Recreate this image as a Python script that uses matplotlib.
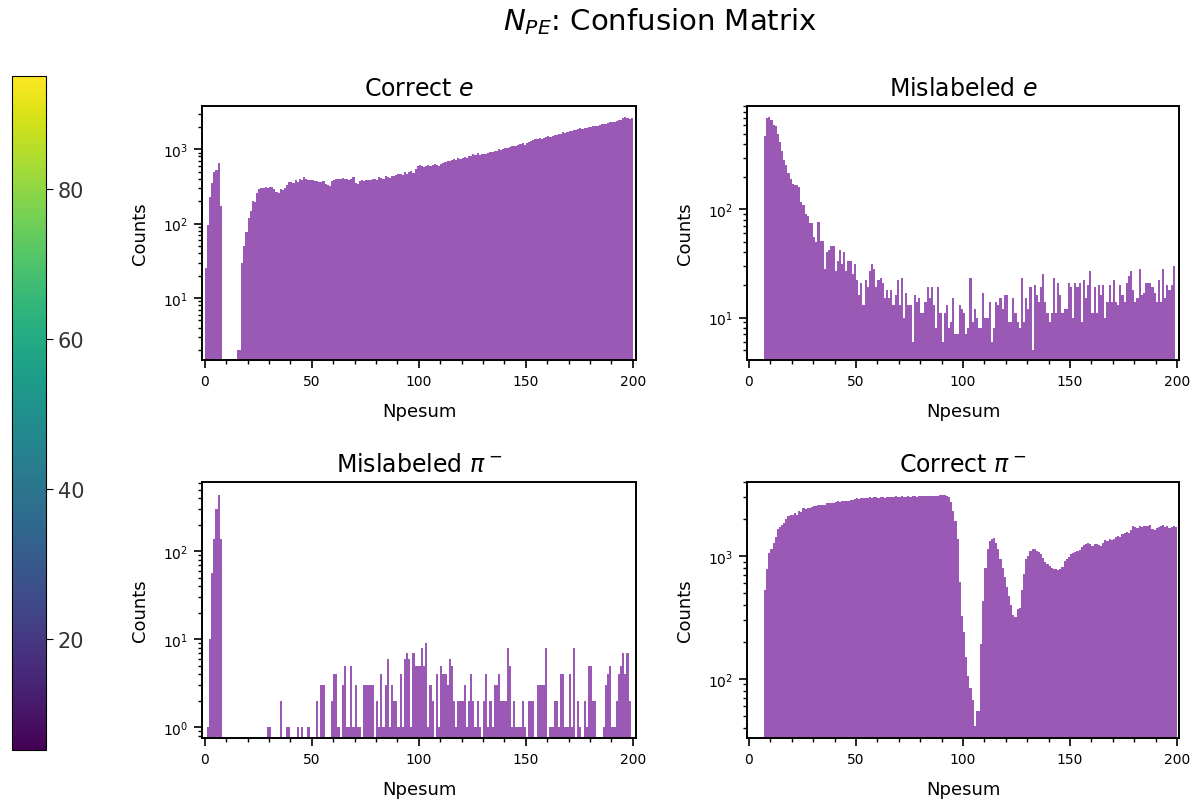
import numpy as np
import matplotlib.pyplot as plt
from matplotlib.cm import ScalarMappable
from matplotlib.colors import Normalize
from matplotlib.ticker import MultipleLocator

# bin edges for Npesum (1 unit wide)
bin_edges = np.arange(0, 201)

# counts per bin
correct_e = [
    25, 95, 230, 350, 500, 520, 650, 170, 0, 0,
    0, 0, 0, 0, 0, 2, 2, 30, 50, 78,
    118, 150, 200, 195, 260, 290, 305, 300, 315, 305,
    310, 315, 290, 270, 255, 290, 280, 300, 330, 360,
    365, 350, 380, 360, 400, 385, 420, 395, 380, 390,
    385, 375, 370, 365, 360, 370, 345, 330, 320, 375,
    390, 400, 395, 400, 405, 395, 400, 390, 400, 420,
    350, 345, 370, 380, 375, 390, 385, 380, 395, 400,
    390, 420, 410, 400, 430, 420, 410, 440, 430, 450,
    460, 470, 455, 490, 470, 500, 510, 480, 540, 600,
    610, 590, 580, 600, 620, 590, 610, 630, 615, 600,
    640, 660, 680, 700, 690, 720, 730, 720, 760, 740,
    770, 790, 760, 810, 800, 850, 830, 880, 840, 870,
    860, 860, 900, 920, 910, 960, 950, 1000, 990, 1010,
    1030, 1050, 1060, 1090, 1100, 1110, 1150, 1170, 1200, 1150,
    1220, 1260, 1300, 1330, 1350, 1380, 1400, 1390, 1430, 1450,
    1500, 1480, 1520, 1560, 1540, 1600, 1620, 1680, 1650, 1700,
    1750, 1770, 1800, 1830, 1850, 1900, 1880, 1920, 1950, 1980,
    2000, 2050, 2030, 2080, 2100, 2150, 2200, 2180, 2250, 2300,
    2350, 2320, 2400, 2450, 2500, 2600, 2700, 2620, 2550, 2600,
]

mislabeled_e = [
    0, 0, 0, 0, 0, 0, 0, 477, 705, 720,
    670, 600, 590, 500, 415, 345, 286, 255, 215, 190,
    170, 167, 167, 160, 118, 110, 90, 87, 75, 75,
    55, 50, 77, 51, 51, 28, 40, 42, 46, 46,
    27, 33, 42, 31, 40, 27, 33, 33, 25, 31,
    22, 16, 21, 13, 22, 19, 27, 31, 28, 19,
    22, 23, 21, 15, 18, 15, 18, 13, 16, 22,
    13, 23, 10, 17, 13, 13, 6, 16, 14, 15,
    11, 11, 14, 19, 15, 19, 13, 8, 19, 11,
    6, 11, 13, 8, 9, 15, 7, 7, 13, 12,
    11, 7, 8, 23, 9, 12, 10, 8, 8, 17,
    10, 10, 14, 6, 8, 14, 13, 15, 12, 16,
    16, 9, 9, 15, 11, 9, 8, 23, 9, 15,
    12, 19, 5, 20, 16, 14, 19, 25, 14, 11,
    9, 11, 23, 11, 21, 16, 11, 12, 12, 21,
    19, 10, 21, 19, 21, 9, 22, 15, 20, 27,
    11, 19, 11, 20, 16, 20, 10, 14, 20, 14,
    22, 14, 13, 20, 16, 14, 21, 24, 27, 18,
    14, 15, 28, 16, 17, 21, 21, 21, 19, 17,
    14, 22, 14, 28, 15, 20, 18, 20, 30, 0,
]

mislabeled_pi = [
    0, 1, 10, 57, 137, 300, 430, 137, 0, 0,
    0, 0, 0, 0, 0, 0, 0, 0, 0, 0,
    0, 0, 0, 0, 0, 0, 0, 0, 0, 1,
    1, 0, 0, 0, 0, 2, 0, 0, 1, 1,
    0, 0, 0, 1, 0, 1, 0, 0, 1, 0,
    0, 0, 2, 0, 3, 3, 0, 0, 0, 2,
    4, 4, 1, 0, 3, 5, 1, 1, 5, 1,
    3, 1, 1, 0, 3, 3, 3, 3, 3, 0,
    2, 1, 4, 1, 3, 6, 1, 3, 2, 2,
    1, 4, 1, 6, 7, 6, 1, 7, 5, 5,
    5, 8, 5, 9, 1, 3, 2, 0, 4, 1,
    5, 4, 4, 3, 6, 5, 2, 1, 2, 2,
    2, 3, 1, 2, 4, 2, 1, 2, 1, 0,
    2, 4, 1, 2, 1, 3, 3, 4, 2, 2,
    2, 8, 5, 1, 2, 1, 1, 1, 2, 1,
    0, 2, 2, 2, 0, 3, 3, 3, 3, 8,
    0, 1, 1, 2, 2, 1, 4, 4, 1, 1,
    4, 1, 8, 0, 2, 1, 0, 2, 1, 5,
    5, 2, 2, 0, 0, 0, 1, 3, 4, 5,
    1, 1, 2, 4, 5, 7, 4, 7, 2, 0,
]

correct_pi = [
    0, 0, 0, 0, 0, 0, 0, 527, 780, 1050,
    1150, 1280, 1430, 1670, 1720, 1800, 1860, 2000, 2110, 2150,
    2150, 2220, 2150, 2320, 2290, 2450, 2420, 2470, 2450, 2500,
    2550, 2530, 2580, 2600, 2620, 2600, 2700, 2680, 2720, 2700,
    2750, 2780, 2760, 2800, 2790, 2820, 2800, 2850, 2830, 2900,
    2950, 2920, 2960, 2940, 2980, 2950, 3000, 2970, 3000, 3020,
    2980, 3000, 3030, 2990, 3010, 3040, 3000, 3020, 3050, 3010,
    3030, 3060, 3020, 3040, 3060, 3030, 3050, 3070, 3040, 3060,
    3080, 3050, 3070, 3060, 3090, 3050, 3080, 3100, 3070, 3120,
    3160, 3120, 3060, 3030, 2740, 2320, 1920, 1370, 610, 326,
    240, 150, 106, 85, 67, 41, 55, 55, 192, 430,
    800, 1130, 1320, 1380, 1400, 1280, 1130, 950, 800, 680,
    560, 470, 400, 330, 320, 370, 380, 530, 710, 940,
    1000, 1100, 1130, 1130, 1100, 1080, 1030, 970, 900, 860,
    830, 800, 780, 790, 770, 780, 820, 910, 940, 990,
    1030, 1060, 1080, 1100, 1120, 1180, 1220, 1240, 1270, 1240,
    1200, 1260, 1240, 1220, 1200, 1280, 1350, 1330, 1370, 1340,
    1380, 1430, 1450, 1430, 1500, 1550, 1570, 1550, 1640, 1750,
    1730, 1700, 1750, 1730, 1770, 1750, 1770, 1800, 1670, 1640,
    1700, 1730, 1770, 1800, 1730, 1750, 1700, 1730, 1770, 1730,
]

titles = ['Correct $e$', 'Mislabeled $e$', 'Mislabeled $\\pi^-$', 'Correct $\\pi^-$']
series = [correct_e, mislabeled_e, mislabeled_pi, correct_pi]
ylims = [(1.47, 3800), (4.05, 900), (0.75, 610), (33, 4000)]
cbar_range = (5.2, 95.1)
cbar_ticks = [20, 40, 60, 80]

bar_color = '#9b59b6'

fig = plt.figure(figsize=(11.99, 8.03), dpi=100)

# axes rectangles [left, bottom, width, height] in figure fraction
rects = [
    [0.1685, 0.5504, 0.3620, 0.3163],
    [0.6230, 0.5504, 0.3603, 0.3163],
    [0.1685, 0.0797, 0.3620, 0.3188],
    [0.6230, 0.0797, 0.3603, 0.3188],
]

for i in range(4):
    ax = fig.add_axes(rects[i])
    ax.hist(bin_edges[:-1], bins=bin_edges, weights=series[i], color=bar_color)
    ax.set_yscale('log')
    ax.set_ylim(*ylims[i])
    if i % 2 == 0:
        ax.set_xlim(-1.26, 201.5)
    else:
        ax.set_xlim(-0.93, 200.9)
    ax.xaxis.set_major_locator(MultipleLocator(50))
    ax.xaxis.set_minor_locator(MultipleLocator(10))
    ax.set_title(titles[i], fontsize=17, pad=8)
    ax.set_xlabel('Npesum', fontsize=13, labelpad=10)
    ax.set_ylabel('Counts', fontsize=13, labelpad=10)
    ax.tick_params(which='major', labelsize=10, length=5.5, width=1.2, pad=4.5)
    ax.tick_params(which='minor', length=3.2, width=1.0)
    for sp in ax.spines.values():
        sp.set_linewidth(1.4)

# colorbar on the left edge
cax = fig.add_axes([0.010, 0.0648, 0.0284, 0.8393])
sm = ScalarMappable(cmap='viridis', norm=Normalize(vmin=cbar_range[0], vmax=cbar_range[1]))
sm.set_array([])
cbar = fig.colorbar(sm, cax=cax)
cbar.set_ticks(cbar_ticks)
cbar.ax.tick_params(labelsize=15, labelcolor='#333333', length=5)

fig.text(0.55, 0.992, '$N_{PE}$: Confusion Matrix', fontsize=21, ha='center', va='top')

fig.savefig('out.png', dpi=100)
